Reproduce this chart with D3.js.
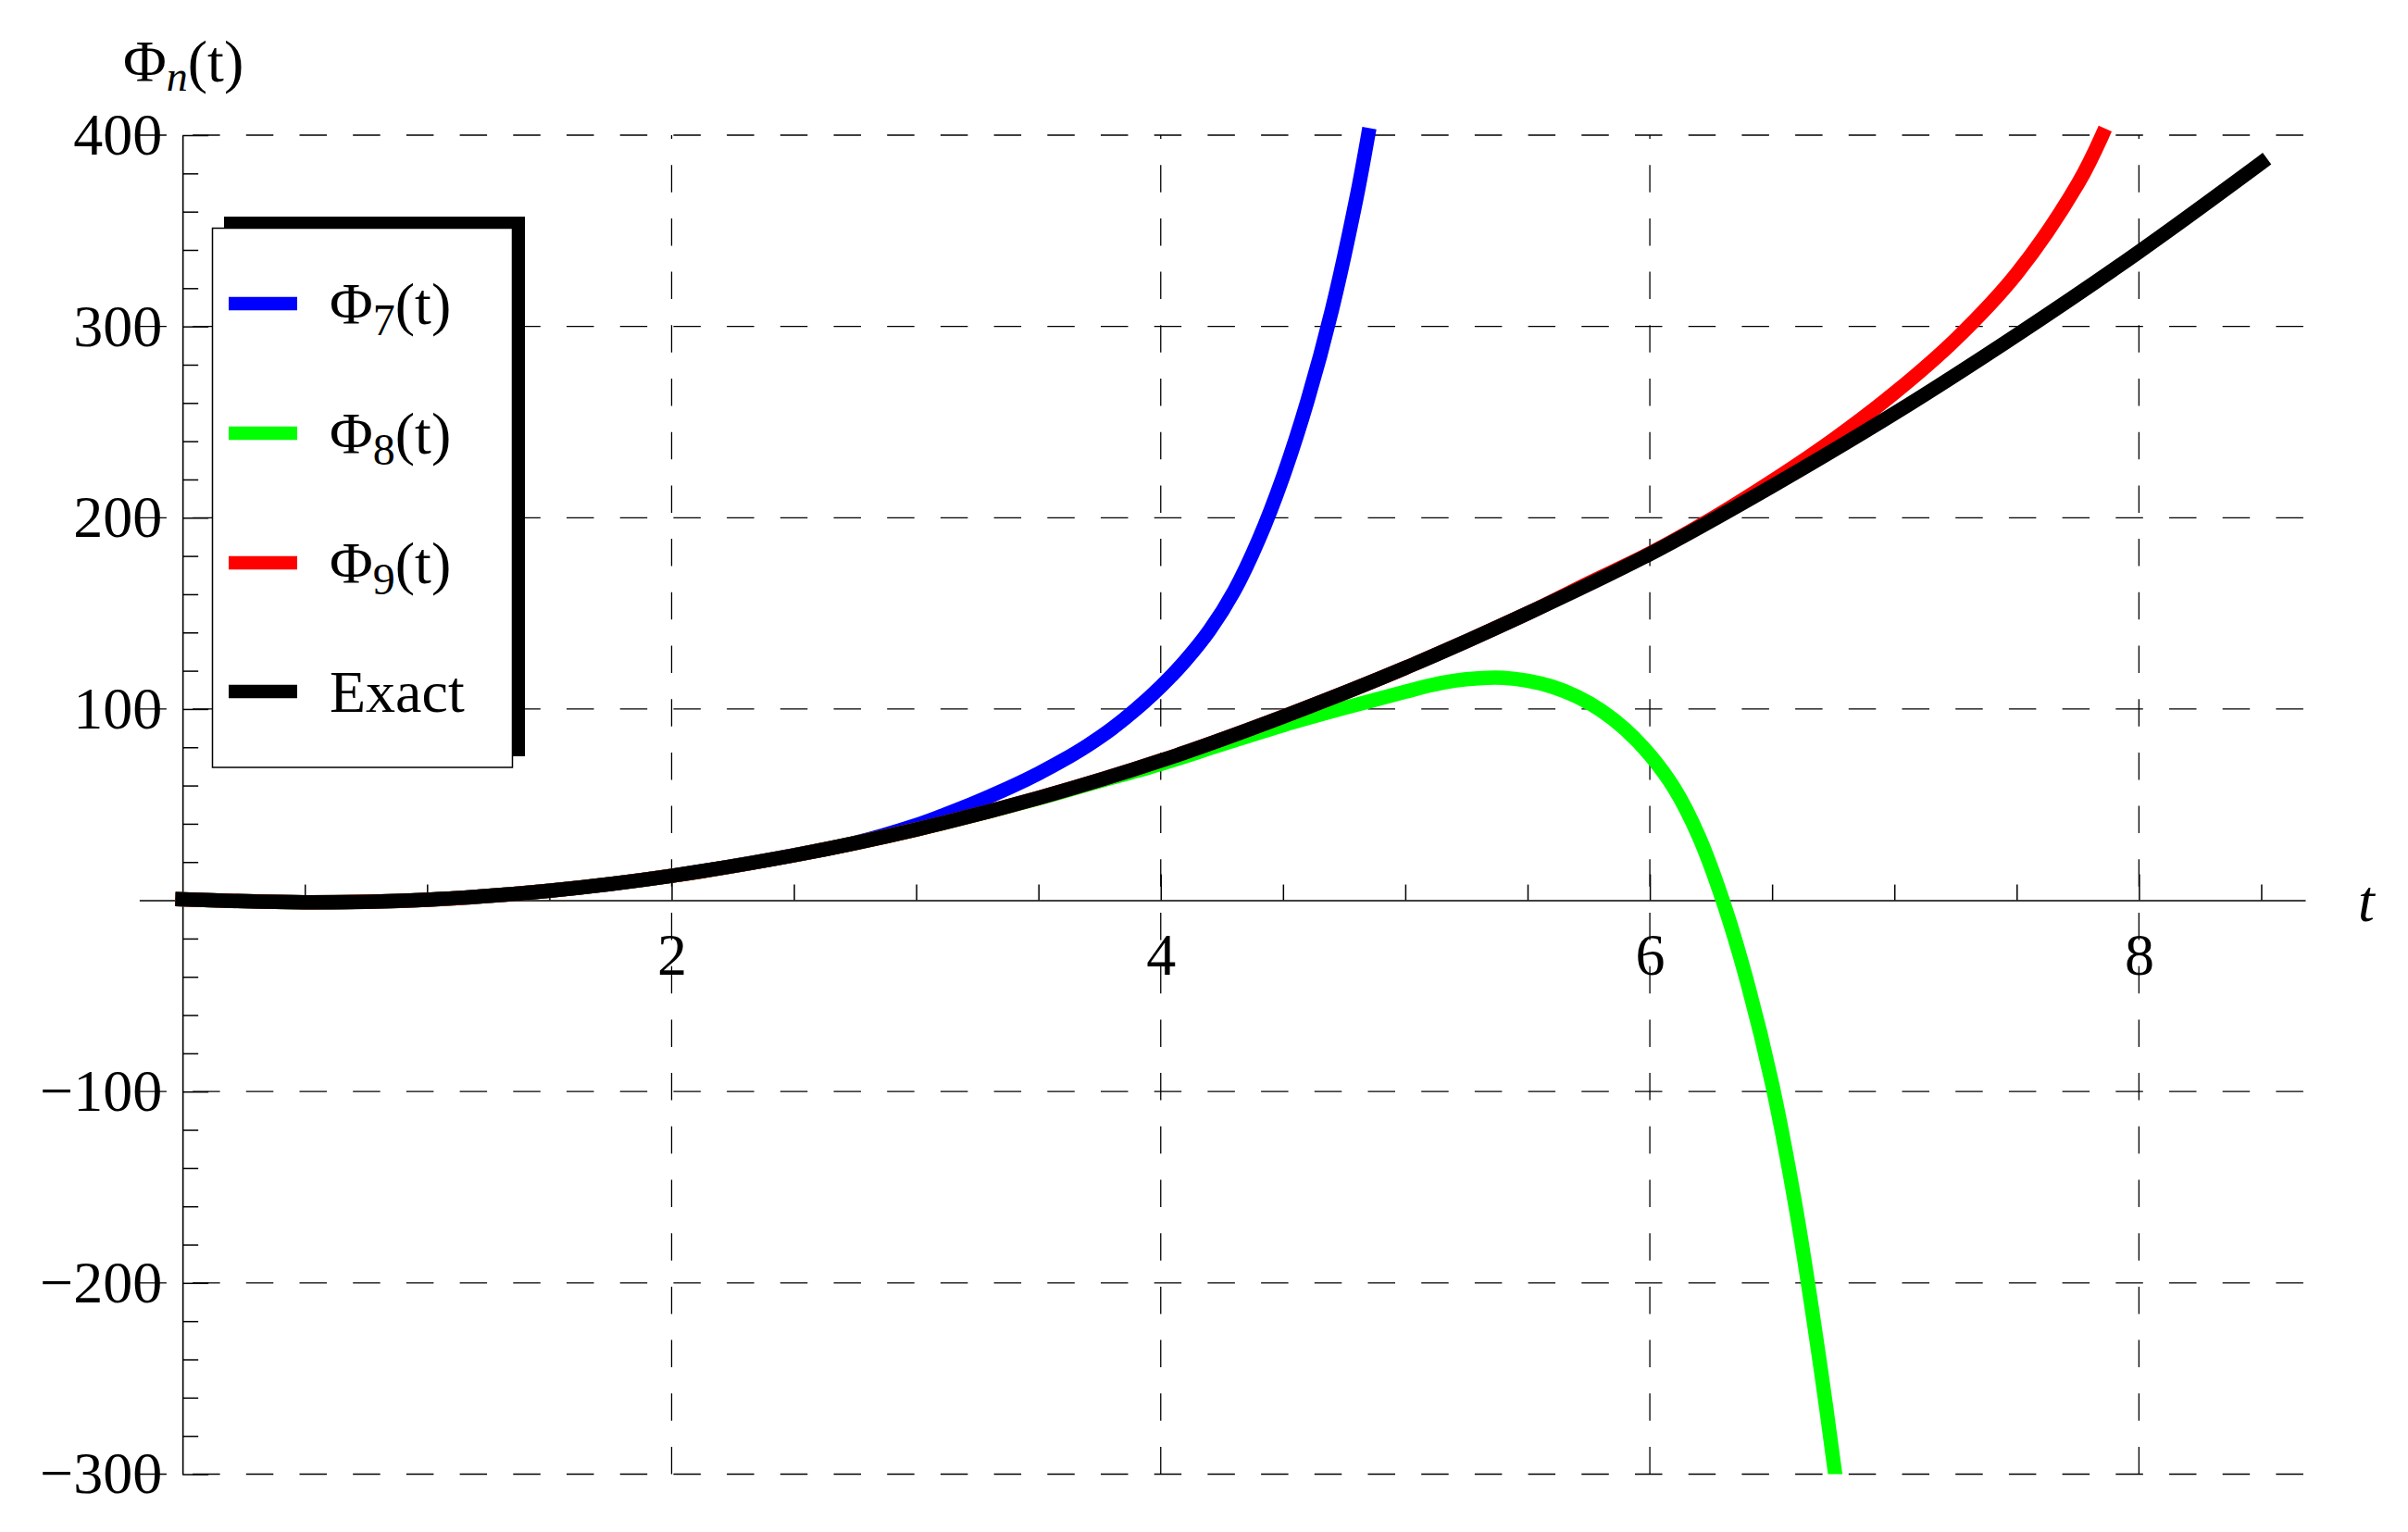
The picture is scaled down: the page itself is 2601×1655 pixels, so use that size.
<!DOCTYPE html>
<html>
<head>
<meta charset="utf-8">
<script src="https://cdn.jsdelivr.net/npm/d3@7"></script>
<style>
  html, body { margin: 0; padding: 0; background: #ffffff; }
  svg { display: block; }
</style>
</head>
<body>
<svg id="chart" width="2601" height="1655"></svg>
<script>
// ---------- data ----------
const xTickValues = [2, 4, 6, 8];
const xTickLabels = ["2", "4", "6", "8"];
const xMinorTicks = [0.5, 1, 1.5, 2.5, 3, 3.5, 4.5, 5, 5.5, 6.5, 7, 7.5, 8.5];
const yTickValues = [-300, -200, -100, 100, 200, 300, 400];
const yTickLabels = ["\u2212300", "\u2212200", "\u2212100", "100", "200", "300", "400"];
const yMinorTicks = [-280, -260, -240, -220, -180, -160, -140, -120, -80, -60, -40, -20,
                     20, 40, 60, 80, 120, 140, 160, 180, 220, 240, 260, 280, 320, 340, 360, 380];

const seriesNames = ["\u03A6", "\u03A6", "\u03A6", "Exact"];
const seriesSubs = ["7", "8", "9", ""];
const seriesColors = ["#0000ff", "#00ff00", "#ff0000", "#000000"];

const tPhi7 = [0, 0.5, 1, 1.5, 2, 2.5, 2.75, 3, 3.1, 3.2, 3.3, 3.4, 3.5, 3.6, 3.7, 3.8, 3.9,
               4, 4.1, 4.2, 4.3, 4.4, 4.5, 4.6, 4.7, 4.8, 4.848];
const vPhi7 = [0.5, -1, 0.3, 5, 12.8, 23.6, 30, 39.3, 43.9, 48.9, 54.3, 60, 66.3, 73.2, 80.9, 89.7, 100,
               111.7, 125.2, 141.2, 161.6, 188.4, 221.4, 261.1, 308.6, 366.9, 400];

const tPhi8 = [0, 0.5, 1, 1.5, 2, 2.5, 3, 3.5, 3.75, 4, 4.25, 4.5, 4.75, 5, 5.1, 5.2, 5.3, 5.4, 5.5, 5.6, 5.7, 5.8, 5.9,
               6, 6.1, 6.2, 6.3, 6.4, 6.5, 6.6, 6.7, 6.76];
const vPhi8 = [0.5, -1, 0.3, 5, 12.8, 23.5, 37, 53.2, 62.3, 71.3, 81.5, 91.5, 100.5, 109, 112.3, 114.8, 116.1, 116.3, 114.8, 111.7, 106.6, 99.3, 89.3,
               76, 58.5, 33.5, -0.8, -43.6, -96, -163, -246, -302];

const tPhi9 = [0, 0.5, 1, 1.5, 2, 2.5, 3, 3.5, 4, 4.5, 5, 5.5, 5.75, 6, 6.25, 6.5, 6.75, 7, 7.25, 7.5, 7.75, 7.85];
const vPhi9 = [0.5, -1, 0.3, 5, 12.8, 23.5, 37, 53.5, 73, 96, 121.5, 150, 165.8, 181.3, 199.2, 219.1, 240.8, 265.2, 293.2, 327.6, 374.5, 400];

const tExact = [0, 0.25, 0.5, 0.75, 1, 1.25, 1.5, 1.75, 2, 2.5, 3, 3.5, 4, 4.5, 5, 5.5, 6, 6.5, 7, 7.5, 8, 8.5];
const vExact = [0.5, -0.5, -1, -0.8, 0.3, 2.3, 5, 8.5, 12.8, 23.5, 37, 53.5, 73, 96, 121.5, 150, 181, 216.5, 254.5, 295.5, 339, 385.5];

// ---------- drawing ----------
const FONT = "'Liberation Serif', 'Times New Roman', Times, serif";
const svg = d3.select("#chart");
svg.append("rect").attr("width", 2601).attr("height", 1655).attr("fill", "#ffffff");

const x = d3.scaleLinear().domain([-0.177, 8.68]).range([150.4, 2490]);
const y = d3.scaleLinear().domain([-300, 400]).range([1592.5, 146]);

// grid lines
const grid = svg.append("g").attr("stroke", "#000").attr("stroke-width", 1.3).attr("fill", "none");
grid.selectAll("line.hg").data(yTickValues).join("line")
  .attr("class", "hg")
  .attr("x1", x.range()[0]).attr("x2", x.range()[1])
  .attr("y1", d => y(d)).attr("y2", d => y(d))
  .attr("stroke-dasharray", "29.5,28.2");
grid.selectAll("line.vg").data(xTickValues).join("line")
  .attr("class", "vg")
  .attr("x1", d => x(d)).attr("x2", d => x(d))
  .attr("y1", y.range()[0]).attr("y2", y.range()[1])
  .attr("stroke-dasharray", "29.5,28.2");

// axes
function styleAxis(g) {
  g.attr("font-family", FONT).attr("font-size", 64);
  g.selectAll("path.domain").attr("stroke-width", 1.6);
  g.selectAll(".tick line").attr("stroke-width", 1.5);
  g.selectAll("text").attr("fill", "#000");
}

const gxMinor = svg.append("g").attr("transform", `translate(0,${y(0)})`)
  .call(d3.axisBottom(x).tickValues(xMinorTicks).tickFormat("").tickSize(-17).tickSizeOuter(0));
gxMinor.select("path.domain").remove();
styleAxis(gxMinor);

const gx = svg.append("g").attr("transform", `translate(0,${y(0)})`)
  .call(d3.axisBottom(x).tickValues(xTickValues).tickFormat((d, i) => xTickLabels[i])
    .tickSize(-28).tickSizeOuter(0).tickPadding(35));
styleAxis(gx);

const gyMinor = svg.append("g").attr("transform", `translate(${x(0)},0)`)
  .call(d3.axisLeft(y).tickValues(yMinorTicks).tickFormat("").tickSize(-17).tickSizeOuter(0));
gyMinor.select("path.domain").remove();
styleAxis(gyMinor);

const gy = svg.append("g").attr("transform", `translate(${x(0)},0)`)
  .call(d3.axisLeft(y).tickValues(yTickValues).tickFormat((d, i) => yTickLabels[i])
    .tickSize(-28).tickSizeOuter(0).tickPadding(22));
styleAxis(gy);

// curves
svg.append("clipPath").attr("id", "plotClip")
  .append("rect").attr("x", 0).attr("y", 0).attr("width", 2601).attr("height", y(-300));

const line = d3.line().x(d => x(d[0])).y(d => y(d[1])).curve(d3.curveCatmullRom.alpha(0.5));
const seriesData = [
  d3.zip(tPhi7, vPhi7),
  d3.zip(tPhi8, vPhi8),
  d3.zip(tPhi9, vPhi9),
  d3.zip(tExact, vExact)
];
const curves = svg.append("g").attr("clip-path", "url(#plotClip)");
curves.selectAll("path").data(seriesData).join("path")
  .attr("d", d => line(d))
  .attr("fill", "none")
  .attr("stroke", (d, i) => seriesColors[i])
  .attr("stroke-width", 15.5)
  .attr("stroke-linecap", "square")
  .attr("stroke-linejoin", "round");

// legend
const legend = svg.append("g");
legend.append("rect").attr("x", 242).attr("y", 234).attr("width", 325).attr("height", 583).attr("fill", "#000");
legend.append("rect").attr("x", 229.5).attr("y", 246.5).attr("width", 324).attr("height", 582.5)
  .attr("fill", "#fff").attr("stroke", "#000").attr("stroke-width", 1.5);
const rowY = [328, 468, 608, 747];
seriesNames.forEach((name, i) => {
  legend.append("line")
    .attr("x1", 247).attr("x2", 321).attr("y1", rowY[i]).attr("y2", rowY[i])
    .attr("stroke", seriesColors[i]).attr("stroke-width", 14.5);
  const t = legend.append("text")
    .attr("x", 356).attr("y", rowY[i] + 22)
    .attr("font-family", FONT).attr("font-size", 64).attr("fill", "#000");
  if (seriesSubs[i]) {
    t.append("tspan").text(name);
    t.append("tspan").attr("font-size", 48).attr("dy", 12).text(seriesSubs[i]);
    t.append("tspan").attr("dy", -12).text("(t)");
  } else {
    t.text(name);
  }
});

// axis labels
const yl = svg.append("text").attr("x", 133).attr("y", 88)
  .attr("font-family", FONT).attr("font-size", 64).attr("fill", "#000");
yl.append("tspan").text("\u03A6");
yl.append("tspan").attr("font-style", "italic").attr("font-size", 46).attr("dy", 10).text("n");
yl.append("tspan").attr("dy", -10).text("(t)");

svg.append("text").attr("x", 2556).attr("y", 995)
  .attr("text-anchor", "middle")
  .attr("font-family", FONT).attr("font-size", 64).attr("font-style", "italic").attr("fill", "#000")
  .text("t");
</script>
</body>
</html>
